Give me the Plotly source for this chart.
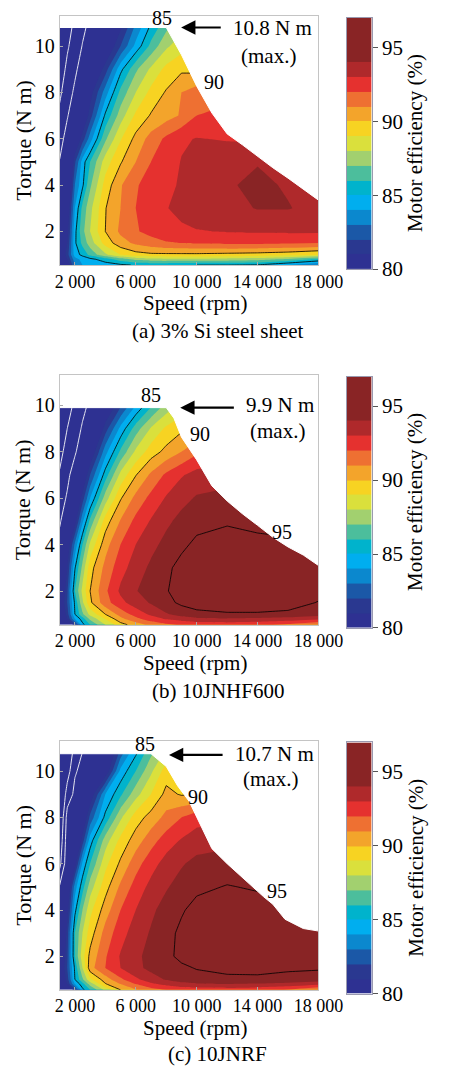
import plotly.graph_objects as go

# ---------------- data ----------------
SPEED = [1000, 1500, 2000, 2500, 3000, 4000, 5000, 6000, 7000, 8000, 9000, 10000, 12000, 14000, 16000, 18000]
TORQUE = [0.55, 0.8, 1.0, 1.5, 2, 3, 4, 5, 6, 7, 8, 9, 10, 11]

EFF_A = [
    [78, 80, 83, 84, 84.3, 84.5, 84.8, 85.1, 85.2, 85.2, 85.1, 85.0, 85.0, 84.9, 84.0, 83.0],
    [79, 81, 83.6, 84.3, 84.7, 85.5, 86.5, 87.3, 87.6, 87.7, 87.7, 87.7, 87.6, 87.4, 86.8, 85.8],
    [79.5, 81.5, 84.5, 85.3, 86.3, 87.8, 89.0, 89.6, 89.8, 89.8, 89.8, 89.8, 89.7, 89.6, 89.4, 89.0],
    [79.5, 81, 84.8, 86.3, 87.5, 89.4, 90.6, 91.2, 91.6, 91.9, 92.0, 92.1, 92.2, 92.2, 92.1, 92.0],
    [79, 80.5, 84.7, 86.7, 88.0, 90.0, 91.2, 91.9, 92.3, 92.6, 92.8, 92.95, 93.05, 93.1, 93.15, 93.15],
    [77.5, 79.8, 84.0, 86.3, 87.7, 89.95, 91.0, 92.0, 92.5, 92.95, 93.3, 93.5, 93.7, 94.05, 94.05, 93.7],
    [76.3, 78.5, 83.0, 84.8, 86.8, 89.4, 90.9, 91.9, 92.4, 92.8, 93.1, 93.4, 93.9, 94.2, 93.9, 93.5],
    [75.2, 77.8, 81.8, 84.5, 86.0, 88.5, 89.9, 91.0, 92.0, 92.5, 93.05, 93.3, 93.8, 93.95, 93.6, 93.3],
    [73.5, 76.5, 79.5, 81.5, 83.5, 86.8, 88.9, 90.3, 91.4, 92.2, 92.85, 93.05, 92.9, 92.8, 92.6, 92.4],
    [71.2, 74.7, 77.5, 79.5, 81.5, 85.2, 87.5, 89.2, 90.1, 90.6, 91.1, 92.0, 92.4, 92.3, 92.0, 91.7],
    [69, 73, 75.8, 78.5, 80.5, 83.5, 86.3, 88.0, 89.3, 90.1, 91.0, 91.5, 91.5, 91.3, 91.0, 90.7],
    [67, 71.2, 74.2, 76.8, 79, 81.5, 84.7, 86.8, 88.2, 89.3, 89.8, 89.7, 89.5, 89.3, 89.0, 88.7],
    [65, 69.3, 72.5, 75.2, 77.2, 79.5, 82.0, 84.3, 86.3, 87.8, 88.6, 88.5, 88.3, 88.0, 87.8, 87.5],
    [63, 67.5, 71, 73.8, 75.8, 78, 80.5, 83, 85, 86.5, 87.5, 87.5, 87.5, 87.3, 87, 86.8],
]

EFF_B = [
    [77, 79.5, 81.5, 84.7, 86.0, 88.0, 89.6, 90.5, 91.3, 91.8, 92.1, 92.3, 92.4, 92.2, 91.8, 91.0],
    [78.5, 81, 84.0, 85.5, 87.2, 89.0, 90.7, 91.7, 92.5, 93.1, 93.5, 93.8, 93.9, 93.8, 93.6, 93.2],
    [79, 81.5, 85.0, 86.8, 88.3, 90.0, 91.4, 92.4, 93.2, 93.9, 94.4, 94.75, 94.9, 94.9, 94.8, 94.5],
    [79.5, 82, 85.2, 87.8, 89.8, 91.6, 92.7, 93.5, 94.1, 94.7, 95.2, 95.4, 95.5, 95.5, 95.4, 94.95],
    [79, 81.8, 86.0, 88.3, 90.0, 91.8, 93.2, 93.95, 94.4, 94.95, 95.3, 95.5, 95.6, 95.6, 95.5, 95.3],
    [78, 81, 84.9, 87.3, 89.6, 91.3, 92.6, 93.5, 94.2, 94.8, 95.3, 95.6, 95.7, 95.6, 95.4, 95.2],
    [76.5, 80, 83.2, 86.0, 88.2, 90.6, 92.0, 93.0, 93.7, 94.3, 94.8, 95.2, 95.4, 95.3, 95.05, 95.0],
    [74.5, 78, 80.5, 83.8, 86.3, 89.5, 91.1, 92.3, 93.1, 93.8, 94.3, 94.7, 94.9, 94.7, 94.9, 94.8],
    [73, 75.5, 79, 81.5, 84.0, 87.5, 89.9, 91.3, 92.3, 93.1, 93.7, 94.1, 94.3, 94.3, 94.2, 94.0],
    [70.5, 74, 77, 79.5, 82, 85.5, 88.3, 89.95, 91.2, 92.2, 92.9, 93.4, 93.6, 93.6, 93.5, 93.3],
    [68.5, 71.8, 74.5, 77.3, 79.8, 83.6, 86.2, 88.2, 89.5, 90.3, 91.0, 91.8, 92.2, 92.2, 92.1, 92.0],
    [66.5, 70, 72.5, 75.6, 77.8, 81.5, 84.3, 86.5, 88.1, 89.2, 89.8, 90.0, 90.3, 90.3, 90.2, 90.0],
    [64.5, 68.3, 70.8, 73.6, 76, 79.5, 81.8, 84.0, 85.8, 87.3, 88.3, 88.5, 88.7, 88.7, 88.5, 88.3],
    [62.5, 66.5, 69.5, 72, 74.5, 77.5, 79.8, 82, 84, 85.8, 87, 87.5, 87.8, 87.8, 87.6, 87.4],
]

EFF_C = [
    [77, 79.5, 81.5, 84.7, 86.0, 88.3, 90.0, 90.9, 91.6, 92.0, 92.3, 92.4, 92.5, 92.3, 91.9, 91.0],
    [78.5, 81, 84.0, 85.6, 87.4, 89.9, 91.0, 92.0, 92.8, 93.3, 93.7, 93.9, 94.0, 93.9, 93.7, 93.3],
    [79, 81.5, 85.0, 86.8, 88.8, 90.5, 91.8, 92.8, 93.5, 94.1, 94.5, 94.7, 94.8, 94.8, 94.7, 94.6],
    [79.5, 82, 85.2, 88.0, 90.6, 92.0, 93.0, 93.7, 94.3, 94.6, 94.85, 95.05, 95.25, 95.3, 95.15, 95.1],
    [79, 81.8, 86.0, 88.6, 90.3, 91.9, 93.1, 93.8, 94.3, 94.8, 95.2, 95.4, 95.5, 95.5, 95.4, 95.3],
    [78, 81.5, 86.0, 88.0, 89.5, 91.4, 92.6, 93.5, 94.1, 94.7, 95.2, 95.5, 95.6, 95.6, 95.4, 95.2],
    [77, 80.5, 84.7, 87.0, 88.7, 90.5, 92.0, 93.0, 93.8, 94.4, 94.9, 95.3, 95.5, 95.4, 95.2, 95.0],
    [75.5, 79.5, 83.5, 85.6, 87.5, 89.6, 91.2, 92.4, 93.3, 93.9, 94.4, 94.8, 95.05, 94.9, 94.7, 94.5],
    [68.5, 78.5, 80.5, 84.2, 86.0, 88.7, 90.2, 91.6, 92.6, 93.4, 93.9, 94.3, 94.5, 94.4, 94.2, 94.0],
    [66, 77.8, 78.5, 81.5, 84.5, 87.5, 89.3, 90.5, 91.6, 92.5, 93.1, 93.5, 93.7, 93.6, 93.4, 93.2],
    [64, 76.8, 77, 79.5, 82.3, 85.3, 87.8, 89.5, 90.4, 91.3, 92.0, 92.6, 92.8, 92.7, 92.5, 92.3],
    [62, 72.5, 76, 77.5, 80, 84.0, 85.8, 87.6, 89.0, 90.3, 89.9, 90.0, 90.5, 90.5, 90.3, 90.0],
    [60, 67.5, 74.6, 76, 78, 80.0, 84.3, 86.0, 87.8, 89.5, 88.5, 88.5, 89, 89, 88.8, 88.5],
    [58, 63, 72, 74.8, 76, 79, 82.0, 84.5, 86.5, 88.0, 87.5, 87.5, 88, 88, 87.8, 87.5],
]

# maximum-torque envelopes
ENV_A_SPEED = [1000, 8000, 9000, 10000, 11000, 12000, 13000, 14000, 15000, 16000, 17000, 18000]
ENV_A_TORQUE = [10.8, 10.8, 9.62, 8.27, 7.11, 6.21, 5.74, 5.24, 4.75, 4.3, 3.84, 3.35]
ENV_B_SPEED = [1000, 8000, 8500, 9000, 10000, 11000, 12000, 13000, 14000, 15000, 16000, 17000, 18000]
ENV_B_TORQUE = [9.9, 9.9, 9.45, 8.63, 7.65, 6.53, 5.88, 5.33, 4.83, 4.32, 3.9, 3.55, 3.1]
ENV_C_SPEED = [1000, 7000, 8000, 8750, 9500, 10000, 11000, 12000, 13000, 14400, 15000, 15800, 17000, 18000]
ENV_C_TORQUE = [10.75, 10.75, 10.2, 9.36, 8.7, 8.0, 6.65, 6.0, 5.4, 4.57, 4.25, 3.6, 3.2, 3.07]

MAX_TORQUE = [10.8, 9.9, 10.7]
MAX_LABELS = ["10.8 N m", "9.9 N m", "10.7 N m"]
CAPTIONS = ["(a) 3% Si steel sheet", "(b) 10JNHF600", "(c) 10JNRF"]
CONTOUR_LABELS = [["85", "90"], ["85", "90", "95"], ["85", "90", "95"]]

# arrow head / tail speeds (rpm)
ARROW_HEAD = [8980, 8920, 8180]
ARROW_TAIL = [11680, 12540, 11800]

# colour bands of the efficiency scale (%)
BAND_EDGES = [80, 81, 82, 83, 84, 85, 86, 87, 88, 89, 90, 91, 92, 93, 94, 97]
BAND_COLORS = ["#2E3192", "#2A3890", "#1B58A7", "#0B88CE", "#00AEEF", "#00B3CC",
               "#4CBE9C", "#A2D06F", "#DAE03C", "#F7D322", "#F3A42B", "#EE7032",
               "#E5312F", "#AF292B", "#892425"]

X_RANGE = [1000, 18000]
Y_RANGE = [0.55, 11.3]
FONT = "Liberation Serif, Times New Roman, Times, serif"

# ---------------- layout geometry (page pixels) ----------------
OFF = 8                      # default body margin of the html page
W, H = 450 - OFF, 1079 - OFF

# per panel: plot top, plot bottom, bar top, bar bottom
PANELS = [(16, 268, 18, 272), (379.3, 631.7, 380.7, 635), (749.3, 1001, 750.7, 1005)]
# per panel text positions (page px)
LABEL_POS = [[(169, 18), (224, 83)],
             [(157, 399), (209, 439), (297, 538)],
             [(150, 752), (207, 806), (292, 901)]]
MAXTXT_POS = [(242, 28), (256, 409), (245, 762)]
MAXNOTE_POS = [(283, 57), (292, 436), (285, 788)]
SPEED_Y = [306, 670, 1040]
CAPTION_Y = [335, 699, 1066]


def px_x(p):
    return (p - OFF) / W


def px_y(p):
    return 1 - (p - OFF) / H


n = len(BAND_COLORS)
step_scale = []
for j, c in enumerate(BAND_COLORS):
    lo = 0 if j == 0 else (j - 0.5) / (n - 1)
    hi = 1 if j == n - 1 else (j + 0.5) / (n - 1)
    step_scale.append([lo, c])
    step_scale.append([hi, c])

fig = go.Figure()
EFFS = [EFF_A, EFF_B, EFF_C]
ENVS = [(ENV_A_SPEED, ENV_A_TORQUE), (ENV_B_SPEED, ENV_B_TORQUE), (ENV_C_SPEED, ENV_C_TORQUE)]

annotations = []
layout_axes = {}


def txt(text, x, y, size=21, angle=0, xanchor="center"):
    return dict(text=text, x=px_x(x), y=px_y(y), xref="paper", yref="paper",
                xanchor=xanchor, yanchor="middle", showarrow=False, textangle=angle,
                font=dict(family=FONT, size=size, color="black"))


for i in range(3):
    top, bot, btop, bbot = PANELS[i]
    xa = "x" if i == 0 else f"x{2 * i + 1}"
    ya = "y" if i == 0 else f"y{2 * i + 1}"
    xb = f"x{2 * i + 2}"
    yb = f"y{2 * i + 2}"
    xa_key = "xaxis" if i == 0 else f"xaxis{2 * i + 1}"
    ya_key = "yaxis" if i == 0 else f"yaxis{2 * i + 1}"

    fig.add_trace(go.Contour(
        x=SPEED, y=TORQUE, z=EFFS[i], xaxis=xa, yaxis=ya, autocontour=False,
        contours=dict(start=81, end=94, size=1, coloring="fill", showlines=False),
        colorscale=step_scale, showscale=False, line=dict(smoothing=0, width=0),
        hoverinfo="skip",
    ))
    fig.add_trace(go.Contour(
        x=SPEED, y=TORQUE, z=EFFS[i], xaxis=xa, yaxis=ya, autocontour=False,
        contours=dict(start=70, end=75, size=5, coloring="none", showlines=True),
        line=dict(color="#e6e6f0", width=1, smoothing=0), showscale=False, hoverinfo="skip",
    ))
    fig.add_trace(go.Contour(
        x=SPEED, y=TORQUE, z=EFFS[i], xaxis=xa, yaxis=ya, autocontour=False,
        contours=dict(start=85, end=95, size=5, coloring="none", showlines=True),
        line=dict(color="black", width=0.8, smoothing=0), showscale=False, hoverinfo="skip",
    ))
    es, et = ENVS[i]
    fig.add_trace(go.Scatter(
        x=es + [X_RANGE[1] + 200, X_RANGE[1] + 200, X_RANGE[0]],
        y=et + [et[-1], Y_RANGE[1] + 0.5, Y_RANGE[1] + 0.5],
        xaxis=xa, yaxis=ya, mode="lines", fill="toself", fillcolor="white",
        line=dict(color="white", width=1), hoverinfo="skip", showlegend=False,
    ))
    fig.add_trace(go.Heatmap(
        x=[0, 1], y=BAND_EDGES, z=[[v] for v in BAND_EDGES[:-1]],
        xaxis=xb, yaxis=yb, colorscale=step_scale, zmin=BAND_EDGES[0], zmax=BAND_EDGES[-2],
        showscale=False, hoverinfo="skip",
    ))

    layout_axes[xa_key] = dict(
        domain=[px_x(59), px_x(336)], range=X_RANGE, anchor=ya,
        tickvals=[2000, 6000, 10000, 14000, 18000],
        ticktext=["2 000", "6 000", "10 000", "14 000", "18 000"],
        ticks="inside", ticklen=3, tickcolor="#aaaaaa",
        showline=True, linecolor="#c4c4c4", linewidth=1, mirror=True,
        showgrid=False, zeroline=False, tickfont=dict(family=FONT, size=18, color="black"),
    )
    layout_axes[ya_key] = dict(
        domain=[px_y(bot), px_y(top)], range=Y_RANGE, anchor=xa,
        tickvals=[2, 4, 6, 8, 10],
        ticks="inside", ticklen=3, tickcolor="#aaaaaa",
        showline=True, linecolor="#c4c4c4", linewidth=1, mirror=True,
        showgrid=False, zeroline=False, tickfont=dict(family=FONT, size=20, color="black"),
    )
    layout_axes[f"xaxis{2 * i + 2}"] = dict(
        domain=[px_x(366), px_x(393)], range=[0, 1], anchor=yb,
        showticklabels=False, ticks="", showgrid=False, zeroline=False,
        showline=True, linecolor="#9a9ab0", linewidth=1, mirror=True,
    )
    layout_axes[f"yaxis{2 * i + 2}"] = dict(
        domain=[px_y(bbot), px_y(btop)], range=[BAND_EDGES[0], BAND_EDGES[-1]], anchor=xb,
        side="right", tickvals=[80, 85, 90, 95], ticks="outside", ticklen=5,
        tickcolor="#555555", showgrid=False, zeroline=False,
        showline=True, linecolor="#9a9ab0", linewidth=1, mirror=True,
        tickfont=dict(family=FONT, size=21, color="black"),
    )

    annotations.append(txt("Speed (rpm)", 204, SPEED_Y[i], size=21))
    annotations.append(txt("Torque (N m)", 20, (top + bot) / 2, size=22, angle=-90))
    annotations.append(txt(CAPTIONS[i], 228, CAPTION_Y[i], size=21))
    annotations.append(txt("Motor efficiency (%)", 440, (btop + bbot) / 2, size=21, angle=-90))
    for lab, (lx, ly) in zip(CONTOUR_LABELS[i], LABEL_POS[i]):
        annotations.append(txt(lab, lx, ly, size=20))
    annotations.append(dict(text="", x=ARROW_HEAD[i], y=MAX_TORQUE[i], ax=ARROW_TAIL[i], ay=MAX_TORQUE[i],
                            xref=xa, yref=ya, axref=xa, ayref=ya, showarrow=True,
                            arrowhead=2, arrowsize=1.3, arrowwidth=2.2, arrowcolor="black"))
    annotations.append(txt(MAX_LABELS[i], MAXTXT_POS[i][0], MAXTXT_POS[i][1], size=21, xanchor="left"))
    annotations.append(txt("(max.)", MAXNOTE_POS[i][0], MAXNOTE_POS[i][1], size=21))

fig.update_layout(
    width=W, height=H, margin=dict(l=0, r=0, t=0, b=0),
    paper_bgcolor="white", plot_bgcolor="white", showlegend=False,
    font=dict(family=FONT, color="black"), hovermode=False,
    annotations=annotations, **layout_axes,
)

fig.write_html("out.html")
